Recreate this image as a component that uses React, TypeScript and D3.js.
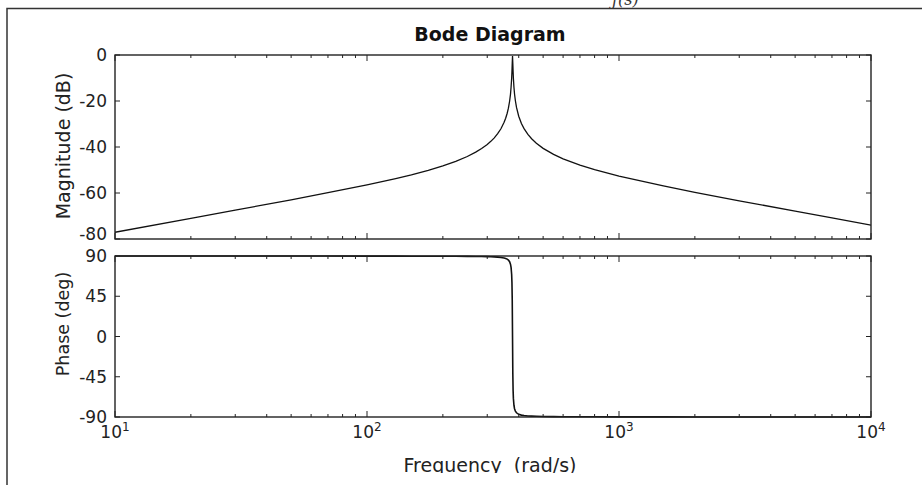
import React from "react";
import * as d3 from "d3";

const freq = [10, 20, 30, 50, 70, 100, 130, 150, 175, 200, 225, 250, 270, 285, 300, 310, 320, 330, 340, 350, 355, 360, 364, 368, 371, 373, 375, 376, 377, 378, 379, 380, 381, 383, 385, 388, 392, 400, 410, 420, 435, 450, 470, 500, 550, 600, 700, 800, 1000, 1500, 2000, 3000, 5000, 7000, 10000];
const magDb = [-77.07, -71.03, -67.48, -62.95, -59.87, -56.45, -53.71, -52.07, -50.12, -48.21, -46.24, -44.12, -42.25, -40.68, -38.9, -37.55, -36.02, -34.23, -32.07, -29.28, -27.52, -25.32, -23.12, -20.12, -17.09, -14.04, -10.15, -7.25, -3.6, -0.5, -3.59, -7.21, -10.09, -14.14, -16.94, -19.89, -22.8, -26.61, -29.76, -32.02, -34.53, -36.42, -38.38, -40.6, -43.23, -45.15, -47.89, -49.85, -52.64, -56.93, -59.68, -63.38, -67.91, -70.86, -73.97];
const phaseDeg = [90, 90, 90, 90, 90, 89.9, 89.9, 89.8, 89.8, 89.7, 89.7, 89.6, 89.5, 89.4, 89.3, 89.1, 89.0, 88.7, 88.4, 87.8, 87.3, 86.5, 85.5, 83.6, 80.9, 77.3, 69.4, 60.5, 41.4, 0, -41.4, -60.4, -69.2, -77.1, -80.7, -83.4, -85.3, -87.0, -87.9, -88.4, -88.8, -89.0, -89.2, -89.5, -89.6, -89.7, -89.8, -89.8, -89.9, -89.9, -90, -90, -90, -90, -90];

const magTicks = [0, -20, -40, -60, -80];
const phaseTicks = [90, 45, 0, -45, -90];
const decadeExps = [1, 2, 3, 4];

const title = "Bode Diagram";
const magLabel = "Magnitude (dB)";
const phaseLabel = "Phase (deg)";
const freqLabel = "Frequency  (rad/s)";

const W = 922;
const H = 485;
const L = 115;
const R = 871;
const magTop = 55;
const magBot = 239;
const phTop = 256;
const phBot = 417;
const FONT = "DejaVu Sans";

const x = d3.scaleLog().domain([10, 10000]).range([L, R]);
const yMag = d3.scaleLinear().domain([-80, 0]).range([magBot, magTop]);
const yPh = d3.scaleLinear().domain([-90, 90]).range([phBot, phTop]);

const minorTicks: number[] = [];
for (let e = 1; e < 4; e++) {
  for (let m = 2; m <= 9; m++) minorTicks.push(m * Math.pow(10, e));
}

function Axes({ top, bot, y, ticks, lowShift }: { top: number; bot: number; y: d3.ScaleLinear<number, number>; ticks: number[]; lowShift: number }) {
  const col = "#222";
  const lowest = Math.min(...ticks);
  return (
    <g>
      {decadeExps.map((e) => {
        const xv = x(Math.pow(10, e));
        return (
          <g key={"M" + e}>
            <line x1={xv} x2={xv} y1={bot} y2={bot - 6} stroke={col} strokeWidth={1} />
            <line x1={xv} x2={xv} y1={top} y2={top + 6} stroke={col} strokeWidth={1} />
          </g>
        );
      })}
      {minorTicks.map((f) => {
        const xv = x(f);
        return (
          <g key={"m" + f}>
            <line x1={xv} x2={xv} y1={bot} y2={bot - 3} stroke={col} strokeWidth={1} />
            <line x1={xv} x2={xv} y1={top} y2={top + 3} stroke={col} strokeWidth={1} />
          </g>
        );
      })}
      {ticks.map((t) => (
        <g key={"y" + t}>
          <line x1={L} x2={L + 5} y1={y(t)} y2={y(t)} stroke={col} strokeWidth={1} />
          <line x1={R} x2={R - 5} y1={y(t)} y2={y(t)} stroke={col} strokeWidth={1} />
          <text
            x={107}
            y={y(t) - (t === lowest ? lowShift : 0)}
            dy="0.36em"
            textAnchor="end"
            fontFamily={FONT}
            fontSize={17}
            fill="#222"
          >
            {String(t)}
          </text>
        </g>
      ))}
      <rect x={L} y={top} width={R - L} height={bot - top} fill="none" stroke={col} strokeWidth={1.4} />
    </g>
  );
}

export default function App() {
  const magLine = d3
    .line<number>()
    .x((_, i) => x(freq[i]))
    .y((d) => yMag(d));
  const phLine = d3
    .line<number>()
    .x((_, i) => x(freq[i]))
    .y((d) => yPh(d));

  return (
    <svg width={W} height={H} style={{ position: "fixed", left: 0, top: 0, background: "#fff" }}>
      <defs>
        <clipPath id="clipMag">
          <rect x={L} y={magTop - 1} width={R - L} height={magBot - magTop + 2} />
        </clipPath>
        <clipPath id="clipPh">
          <rect x={L} y={phTop - 1.5} width={R - L} height={phBot - phTop + 3} />
        </clipPath>
        <clipPath id="clipBottom">
          <rect x={0} y={0} width={W} height={473} />
        </clipPath>
      </defs>
      <rect x={0} y={0} width={W} height={H} fill="#fff" />
      <path d={`M7,${H} V8.5 H${W}`} fill="none" stroke="#333" strokeWidth={1.5} />
      <text x={612} y={5} fontFamily="DejaVu Serif" fontStyle="italic" fontSize={16} fill="#333">
        ƒ(s)
      </text>

      <text x={490} y={41} textAnchor="middle" fontFamily={FONT} fontWeight="bold" fontSize={19} fill="#111">
        {title}
      </text>

      <path d={magLine(magDb) || ""} fill="none" stroke="#111" strokeWidth={1.3} clipPath="url(#clipMag)" />
      <path d={phLine(phaseDeg) || ""} fill="none" stroke="#111" strokeWidth={1.6} clipPath="url(#clipPh)" />

      <Axes top={magTop} bot={magBot} y={yMag} ticks={magTicks} lowShift={5} />
      <Axes top={phTop} bot={phBot} y={yPh} ticks={phaseTicks} lowShift={0} />

      {decadeExps.map((e) => {
        const xv = x(Math.pow(10, e));
        return (
          <text key={"xl" + e} x={xv} y={438} textAnchor="middle" fontFamily={FONT} fontSize={17} fill="#222">
            10
            <tspan dy={-7} fontSize={12}>
              {String(e)}
            </tspan>
          </text>
        );
      })}

      <text
        transform={`translate(69.5,146) rotate(-90)`}
        textAnchor="middle"
        fontFamily={FONT}
        fontSize={19}
        fill="#222"
      >
        {magLabel}
      </text>
      <text
        transform={`translate(69,324) rotate(-90)`}
        textAnchor="middle"
        fontFamily={FONT}
        fontSize={17.5}
        fill="#222"
      >
        {phaseLabel}
      </text>
      <g clipPath="url(#clipBottom)">
        <text
          x={490}
          y={472}
          textAnchor="middle"
          fontFamily={FONT}
          fontSize={19}
          fill="#222"
          xmlSpace="preserve"
          style={{ whiteSpace: "pre" }}
        >
          {freqLabel}
        </text>
      </g>
    </svg>
  );
}
